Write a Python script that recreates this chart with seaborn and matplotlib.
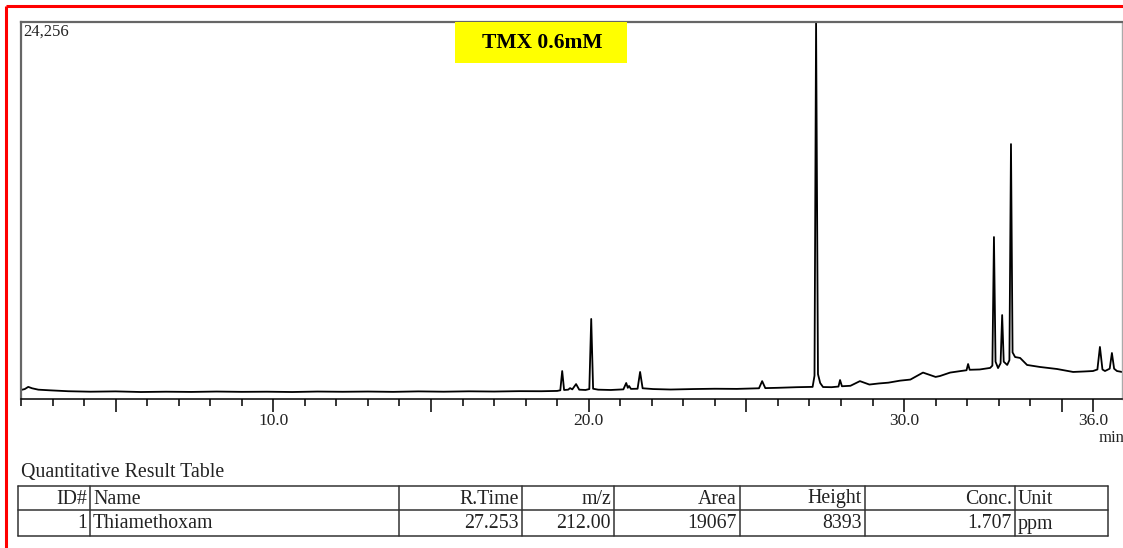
import numpy as np
import pandas as pd
import matplotlib
matplotlib.use("Agg")
import matplotlib.pyplot as plt
import seaborn as sns
from matplotlib.patches import Rectangle
from matplotlib.ticker import MultipleLocator, FixedLocator

# chromatogram trace (retention time in min, intensity)
ret_time = [2.00, 2.12, 2.23, 2.35, 2.55, 2.9, 3.5, 4.2, 5.0, 5.8, 6.6, 7.4, 8.2, 9.0,
            9.8, 10.6, 11.4, 12.2, 13.0, 13.8, 14.6, 15.4, 16.2, 17.0, 17.8, 18.5,
            19.0, 19.1, 19.16, 19.22, 19.35, 19.41, 19.48, 19.6, 19.7, 19.9, 20.02,
            20.08, 20.14, 20.3, 20.7, 21.1, 21.19, 21.24, 21.28, 21.34, 21.55, 21.63,
            21.71, 22.04, 22.6, 23.3, 24.0, 24.7, 25.4, 25.5, 25.6, 26.0, 26.6, 27.1,
            27.16, 27.21, 27.27, 27.34, 27.43, 27.7, 27.92, 27.97, 28.03, 28.3, 28.6,
            28.9, 29.2, 29.5, 29.87, 30.2, 30.6, 31.0, 31.14, 31.46, 31.8, 31.98,
            32.03, 32.08, 32.4, 32.73, 32.80, 32.85, 32.90, 32.98, 33.06, 33.11,
            33.16, 33.27, 33.34, 33.39, 33.44, 33.52, 33.68, 33.90, 34.31, 34.85,
            35.36, 35.70, 35.99, 36.13, 36.21, 36.29, 36.37, 36.52, 36.59, 36.66,
            36.75, 36.91]
intensity = [580, 640, 780, 690, 600, 560, 500, 470, 490, 450, 470, 455, 480, 460,
             470, 450, 480, 465, 480, 460, 490, 470, 495, 480, 505, 500,
             520, 560, 1800, 580, 600, 700, 620, 960, 600, 580, 640,
             5150, 660, 600, 580, 620, 1030, 720, 840, 650, 660, 1740,
             690, 640, 610, 640, 660, 650, 690, 1150, 700, 720, 760, 780,
             1500, 24256, 1600, 1030, 770, 760, 800, 1220, 820, 850, 1150,
             930, 1000, 1050, 1180, 1250, 1700, 1420, 1480, 1700, 1800, 1850,
             2250, 1880, 1900, 2000, 2150, 10420, 2400, 1990, 2300, 5400,
             2400, 2190, 2500, 16400, 3000, 2700, 2640, 2190, 2060, 1930,
             1740, 1770, 1800, 1900, 3350, 1900, 1800, 1950, 2960, 1950,
             1800, 1740]

y_max = 24256
x_tick_vals = [10.0, 20.0, 30.0, 36.0]
x_tick_labels = ["10.0", "20.0", "30.0", "36.0"]
sample_label = "TMX 0.6mM"

# quantitative result table
table_title = "Quantitative Result Table"
table_header = ["ID#", "Name", "R.Time", "m/z", "Area", "Height", "Conc.", "Unit"]
table_row = ["1", "Thiamethoxam", "27.253", "212.00", "19067", "8393", "1.707", "ppm"]

W, H = 1123, 548
sns.set_theme(style="white")
plt.rcParams["font.family"] = ["Liberation Serif", "DejaVu Serif"]

fig = plt.figure(figsize=(W / 100, H / 100), dpi=100)
fig.patch.set_facecolor("white")

# main chromatogram axes
ax = fig.add_axes([21 / W, 1 - 399 / H, (1122 - 21) / W, (399 - 22) / H])
df = pd.DataFrame({"time": ret_time, "intensity": intensity})
sns.lineplot(data=df, x="time", y="intensity", ax=ax, color="black", linewidth=1.3,
             sort=False, estimator=None)
ax.set_xlim(2.0, 36.91)
ax.set_ylim(0, y_max)
ax.set_xlabel("")
ax.set_ylabel("")
ax.set_yticks([])
major_pos = [5, 10, 15, 20, 25, 30, 35, 36]
ax.xaxis.set_major_locator(FixedLocator(major_pos))
ax.xaxis.set_minor_locator(MultipleLocator(1.0))
ax.set_xticklabels(["" if v not in x_tick_vals else x_tick_labels[x_tick_vals.index(v)]
                    for v in major_pos])
ax.tick_params(axis="x", which="major", direction="out", length=9, width=1.1,
               color="black", labelsize=12.5, pad=1, bottom=True, labelcolor="#222222")
ax.tick_params(axis="x", which="minor", direction="out", length=5, width=1.1,
               color="black", bottom=True)
for side in ["top", "left"]:
    ax.spines[side].set_color("#666666")
    ax.spines[side].set_linewidth(1.6)
ax.spines["right"].set_color("#aaaaaa")
ax.spines["right"].set_linewidth(1.0)
ax.spines["bottom"].set_color("black")
ax.spines["bottom"].set_linewidth(1.1)
ax.grid(False)
ax.text(0.002, 0.995, f"{y_max:,}", transform=ax.transAxes, ha="left", va="top",
        fontsize=12, color="#222222")

# overlay in pixel coordinates for the label, table and border
ov = fig.add_axes([0, 0, 1, 1], facecolor="none")
ov.set_xlim(0, W)
ov.set_ylim(H, 0)
ov.axis("off")

ov.add_patch(Rectangle((455, 22), 172, 41, facecolor="#ffff00", edgecolor="none"))
ov.text(542, 43, sample_label, ha="center", va="center", fontsize=15.5,
        fontweight="bold", color="black")

ov.text(1099, 438, "min", ha="left", va="center", fontsize=12, color="#222222")

ov.text(21, 472, table_title, ha="left", va="center", fontsize=14.3, color="#222222")
col_edges = [18, 90, 399, 522, 614, 740, 865, 1015, 1108]
row_edges = [486, 510, 536]
for x in col_edges:
    ov.plot([x, x], [row_edges[0], row_edges[-1]], color="#333333", lw=1.1)
for y in row_edges:
    ov.plot([col_edges[0], col_edges[-1]], [y, y], color="#333333", lw=1.1)
left_cols = {1, 7}
for r, row in enumerate([table_header, table_row]):
    yc = (row_edges[r] + row_edges[r + 1]) / 2 + 1
    for c, txt in enumerate(row):
        if c in left_cols:
            ov.text(col_edges[c] + 3, yc, txt, ha="left", va="center",
                    fontsize=14.3, color="#222222")
        else:
            ov.text(col_edges[c + 1] - 3, yc, txt, ha="right", va="center",
                    fontsize=14.3, color="#222222")

# red outer border (right and bottom edges run off the image)
ov.plot([6, 6], [6, H + 5], color="#ff0000", lw=2.2, solid_capstyle="butt")
ov.plot([6, W + 5], [6, 6], color="#ff0000", lw=2.2, solid_capstyle="butt")

fig.savefig("out.png", dpi=100, facecolor="white")
